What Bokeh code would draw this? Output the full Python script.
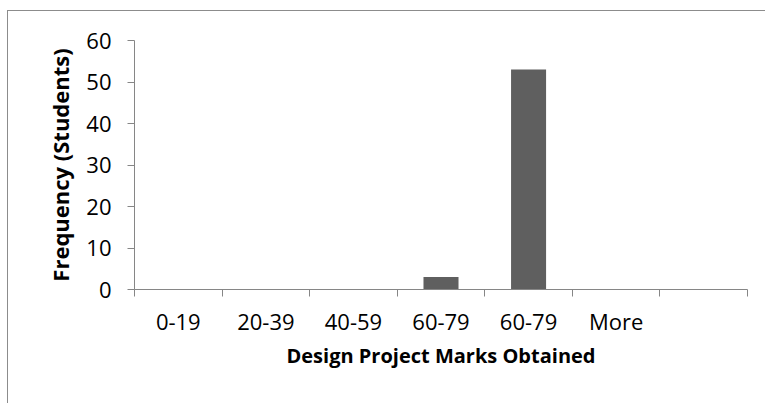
from bokeh.plotting import figure
from bokeh.models import Range1d, FixedTicker, ColumnDataSource
from bokeh.embed import file_html
from bokeh.resources import INLINE

# ---- data ----
bins = ["0-19", "20-39", "40-59", "60-79", "60-79", "More", ""]
frequency = [0, 0, 0, 3, 53, 0, 0]
y_ticks = [0, 10, 20, 30, 40, 50, 60]
x_title = "Design Project Marks Obtained"
y_title = "Frequency (Students)"

FONT = "Open Sans"
AXIS_COLOR = "#868686"
BAR_COLOR = "#5f5f5f"

centers = [i + 0.5 for i in range(len(bins))]
src = ColumnDataSource(dict(x=centers, top=frequency))

p = figure(
    width=758, height=393,
    x_range=Range1d(0, len(bins)), y_range=Range1d(0, 60),
    output_backend="svg", toolbar_location=None,
    min_border_left=126, min_border_right=19,
    min_border_top=29, min_border_bottom=115,
)
p.styles = {"border-left": "1px solid #8c8c8c", "border-top": "1px solid #8c8c8c",
            "margin-top": "10px", "margin-left": "7px"}
p.outline_line_color = None
p.background_fill_color = "white"
p.border_fill_color = "white"
p.xgrid.visible = False
p.ygrid.visible = False

p.vbar(x="x", top="top", bottom=0, width=0.4, source=src,
       fill_color=BAR_COLOR, line_color=None)

# x axis: labels centred in bins, tick marks at bin edges
xa = p.xaxis[0]
xa.ticker = FixedTicker(ticks=centers, minor_ticks=list(range(len(bins) + 1)))
xa.major_label_overrides = {c: b for c, b in zip(centers, bins)}
xa.major_tick_in = 0
xa.major_tick_out = 0
xa.minor_tick_in = 0
xa.minor_tick_out = 7
xa.minor_tick_line_color = AXIS_COLOR
xa.axis_line_color = AXIS_COLOR
xa.major_label_text_font = FONT
xa.major_label_text_font_size = "22px"
xa.major_label_text_color = "black"
xa.major_label_standoff = 9
xa.axis_label = x_title
xa.axis_label_text_font = FONT
xa.axis_label_text_font_style = "bold"
xa.axis_label_text_font_size = "20px"
xa.axis_label_text_color = "black"
xa.axis_label_standoff = 3

ya = p.yaxis[0]
ya.ticker = FixedTicker(ticks=y_ticks)
ya.minor_tick_line_color = None
ya.major_tick_in = 0
ya.major_tick_out = 7
ya.major_tick_line_color = AXIS_COLOR
ya.axis_line_color = AXIS_COLOR
ya.major_label_text_font = FONT
ya.major_label_text_font_size = "22px"
ya.major_label_text_color = "black"
ya.major_label_standoff = 16
ya.axis_label = y_title
ya.axis_label_text_font = FONT
ya.axis_label_text_font_style = "bold"
ya.axis_label_text_font_size = "22px"
ya.axis_label_text_color = "black"
ya.axis_label_standoff = 8

open("out.html", "w").write(file_html(p, INLINE))
